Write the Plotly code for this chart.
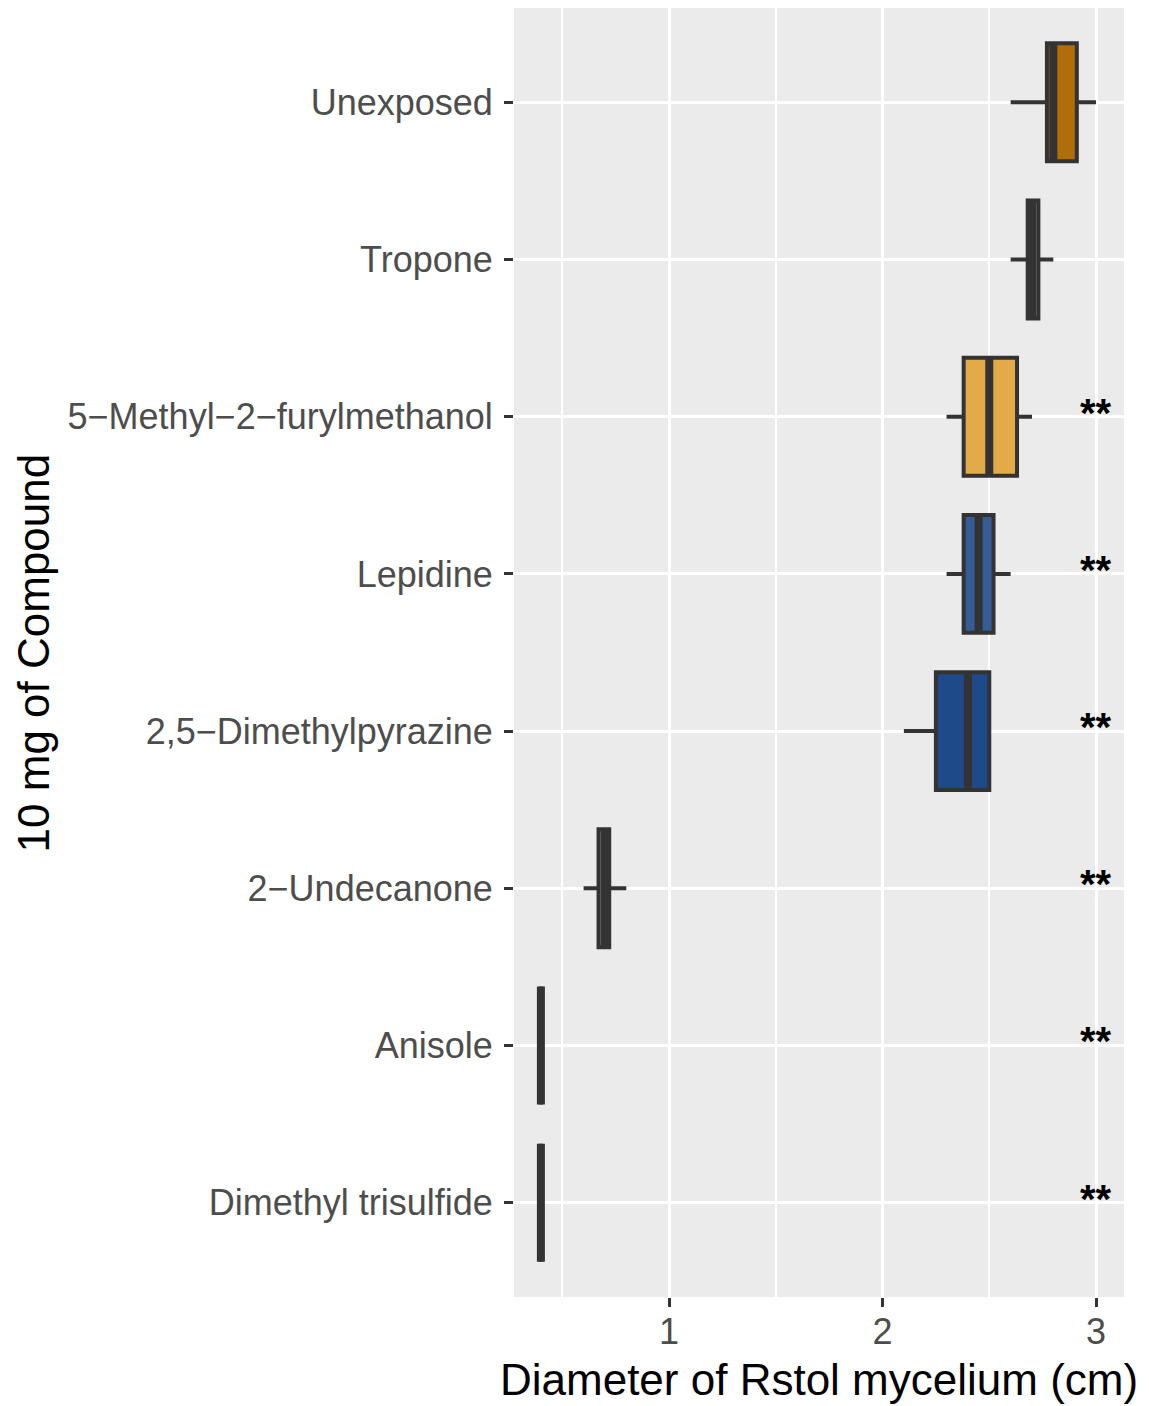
import plotly.graph_objects as go

# Summary statistics of mycelium diameter (cm) per treatment
compounds = ["Unexposed", "Tropone", "5−Methyl−2−furylmethanol", "Lepidine",
             "2,5−Dimethylpyrazine", "2−Undecanone", "Anisole", "Dimethyl trisulfide"]
lower = [2.60, 2.60, 2.30, 2.30, 2.10, 0.60, 0.40, 0.40]
q1 = [2.77, 2.68, 2.38, 2.38, 2.25, 0.67, 0.40, 0.40]
median = [2.80, 2.70, 2.50, 2.45, 2.40, 0.70, 0.40, 0.40]
q3 = [2.91, 2.73, 2.63, 2.52, 2.50, 0.72, 0.40, 0.40]
upper = [3.00, 2.80, 2.70, 2.60, 2.50, 0.80, 0.40, 0.40]
fills = ["#B06E0A", "#8C8C8C", "#E3AA48", "#365C96", "#1F4A8A", "#8C8C8C", "#8C8C8C", "#8C8C8C"]
signif = ["", "", "**", "**", "**", "**", "**", "**"]

n = len(compounds)
ypos = [n - i for i in range(n)]  # first compound on top
half = 0.375
edge = "#333333"

fig = go.Figure()
for i, name in enumerate(compounds):
    fig.add_trace(go.Box(
        orientation="h", y=[ypos[i]],
        q1=[q1[i]], median=[median[i]], q3=[q3[i]],
        lowerfence=[lower[i]], upperfence=[upper[i]],
        width=2 * half, whiskerwidth=0,
        fillcolor=fills[i], line=dict(color=edge, width=4),
        boxpoints=False, showlegend=False, hoverinfo="skip", name=name,
    ))

# thicker median bars
mx, my = [], []
for i in range(n):
    mx += [median[i], median[i], None]
    my += [ypos[i] - half, ypos[i] + half, None]
fig.add_trace(go.Scatter(x=mx, y=my, mode="lines", line=dict(color=edge, width=8),
                         showlegend=False, hoverinfo="skip"))

# significance marks
for i in range(n):
    if signif[i]:
        fig.add_annotation(x=3.0, y=ypos[i], text="<b>" + signif[i] + "</b>", showarrow=False,
                           xanchor="center", yanchor="middle", yshift=4,
                           font=dict(size=40, color="black", family="Liberation Sans"))

fig.add_annotation(text="Diameter of Rstol mycelium (cm)", xref="paper", yref="paper",
                   x=0.5, y=-0.064, xanchor="center", yanchor="middle", showarrow=False,
                   font=dict(size=44, color="black", family="Liberation Sans"))
fig.add_annotation(text="10 mg of Compound", xref="paper", yref="paper",
                   x=-0.787, y=0.5, xanchor="center", yanchor="middle", showarrow=False,
                   textangle=-90, font=dict(size=44, color="black", family="Liberation Sans"))

fig.update_layout(
    width=1149, height=1406,
    margin=dict(l=514, r=25, t=8, b=109),
    paper_bgcolor="white", plot_bgcolor="#EBEBEB",
    font=dict(family="Liberation Sans", color="#4D4D4D"),
    xaxis=dict(range=[0.274, 3.131], tickvals=[1, 2, 3], ticktext=["1", "2", "3"],
               showgrid=True, gridcolor="white", gridwidth=3, zeroline=False,
               ticks="outside", ticklen=9, tickwidth=3, tickcolor=edge,
               ticklabelstandoff=-6,
               tickfont=dict(size=36, color="#4D4D4D"),
               minor=dict(tickvals=[0.5, 1.5, 2.5], showgrid=True, gridcolor="white",
                          gridwidth=1.5, ticks="")),
    yaxis=dict(range=[0.4, n + 0.6], tickvals=ypos, ticktext=compounds,
               showgrid=True, gridcolor="white", gridwidth=3, zeroline=False,
               ticks="outside", ticklen=9, tickwidth=3, tickcolor=edge,
               ticklabelstandoff=4,
               tickfont=dict(size=36, color="#4D4D4D")),
)

fig.write_html("out.html")
